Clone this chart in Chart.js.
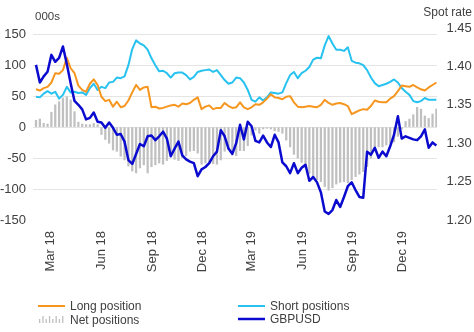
<!DOCTYPE html>
<html>
<head>
<meta charset="utf-8">
<script src="https://cdn.jsdelivr.net/npm/chart.js@4.4.1/dist/chart.umd.min.js"></script>
<style>
html, body { margin: 0; padding: 0; background: #ffffff; }
#wrap { width: 474px; height: 332px; }
</style>
</head>
<body>
<div id="wrap"><canvas id="c" width="474" height="332"></canvas></div>
<script>
// Weekly observations (Friday report dates)
const weekDates = [
  '2018-02-02','2018-02-09','2018-02-16','2018-02-23','2018-03-02','2018-03-09','2018-03-16','2018-03-23','2018-03-30',
  '2018-04-06','2018-04-13','2018-04-20','2018-04-27','2018-05-04','2018-05-11','2018-05-18','2018-05-25',
  '2018-06-01','2018-06-08','2018-06-15','2018-06-22','2018-06-29','2018-07-06','2018-07-13','2018-07-20','2018-07-27',
  '2018-08-03','2018-08-10','2018-08-17','2018-08-24','2018-08-31','2018-09-07','2018-09-14','2018-09-21','2018-09-28',
  '2018-10-05','2018-10-12','2018-10-19','2018-10-26','2018-11-02','2018-11-09','2018-11-16','2018-11-23','2018-11-30',
  '2018-12-07','2018-12-14','2018-12-21','2018-12-28','2019-01-04','2019-01-11','2019-01-18','2019-01-25',
  '2019-02-01','2019-02-08','2019-02-15','2019-02-22','2019-03-01','2019-03-08','2019-03-15','2019-03-22','2019-03-29',
  '2019-04-05','2019-04-12','2019-04-19','2019-04-26','2019-05-03','2019-05-10','2019-05-17','2019-05-24','2019-05-31',
  '2019-06-07','2019-06-14','2019-06-21','2019-06-28','2019-07-05','2019-07-12','2019-07-19','2019-07-26',
  '2019-08-02','2019-08-09','2019-08-16','2019-08-23','2019-08-30','2019-09-06','2019-09-13','2019-09-20','2019-09-27',
  '2019-10-04','2019-10-11','2019-10-18','2019-10-25','2019-11-01','2019-11-08','2019-11-15','2019-11-22','2019-11-29',
  '2019-12-06','2019-12-13','2019-12-20','2019-12-27','2020-01-03','2020-01-10','2020-01-17','2020-01-24','2020-01-31'
];

// Positions, thousands of contracts
const longPositions = [
  61, 59, 63, 65, 72, 87, 86, 92, 112, 95,
  87, 67, 60, 57, 70, 77, 68, 49, 42, 44,
  33, 41, 32, 34, 43, 56, 68, 60, 64, 65,
  32, 33, 30, 31, 33, 35, 36, 33, 38, 37,
  39, 44, 48, 29, 33, 35, 29, 31, 31, 39,
  34, 31, 32, 40, 32, 29, 32, 37, 36, 40,
  46, 53, 48, 47, 45, 49, 50, 40, 33, 32,
  33, 34, 33, 32, 36, 44, 39, 36, 38, 39,
  37, 34, 21, 24, 27, 29, 28, 34, 43, 41,
  40, 40, 46, 50, 58, 67, 66, 65, 68, 64,
  61, 59, 64, 68, 72
];
const shortPositions = [
  49, 48, 54, 58, 54, 57, 46, 52, 65, 56,
  57, 55, 56, 52, 63, 70, 60, 65, 63, 72,
  73, 80, 79, 82, 100, 126, 140, 135, 132, 125,
  111, 100, 90, 91, 87, 80, 87, 88, 88, 84,
  77, 81, 89, 91, 92, 93, 89, 92, 84, 76,
  70, 72, 80, 79, 72, 60, 44, 41, 48, 43,
  48, 56, 55, 54, 56, 71, 84, 89, 79, 87,
  91, 97, 109, 112, 111, 132, 147, 135, 125, 125,
  123, 129, 107, 104, 103, 100, 92, 80, 71, 66,
  68, 70, 73, 77, 72, 63, 57, 52, 42, 40,
  42, 47, 44, 44, 44
];
const netPositions = [
  11, 13, 6, 5, 24, 36, 41, 47, 49, 44,
  25, 8, 5, 4, 4, 6, 4, -12, -20, -26,
  -37, -39, -47, -53, -63, -71, -74, -66, -61, -74,
  -64, -61, -58, -60, -54, -45, -52, -54, -49, -46,
  -39, -38, -42, -60, -58, -56, -59, -60, -53, -39,
  -36, -40, -46, -38, -38, -30, -13, -5, -10, -3,
  -2, -3, -6, -7, -10, -21, -32, -44, -50, -57,
  -66, -75, -79, -85, -88, -96, -102, -98, -92, -89,
  -88, -90, -85, -80, -76, -72, -64, -50, -36, -32,
  -32, -29, -26, -24, -15, -3, 9, 13, 20, 32,
  29, 18, 14, 21, 29
];
// GBP/USD spot rate
const gbpusd = [
  1.402, 1.379, 1.387, 1.393, 1.415, 1.406, 1.411, 1.426, 1.403, 1.378,
  1.355, 1.350, 1.344, 1.331, 1.333, 1.340, 1.328, 1.327, 1.320, 1.327,
  1.320, 1.311, 1.312, 1.302, 1.278, 1.273, 1.286, 1.299, 1.296, 1.309,
  1.310, 1.304, 1.309, 1.315, 1.306, 1.283, 1.293, 1.302, 1.284, 1.279,
  1.276, 1.274, 1.257, 1.266, 1.269, 1.274, 1.283, 1.289, 1.317, 1.309,
  1.293, 1.286, 1.300, 1.324, 1.305, 1.328, 1.322, 1.303, 1.301, 1.310,
  1.301, 1.295, 1.311, 1.301, 1.275, 1.270, 1.261, 1.274, 1.261, 1.268,
  1.272, 1.251, 1.256, 1.249, 1.236, 1.211, 1.208, 1.213, 1.226, 1.217,
  1.230, 1.244, 1.249, 1.239, 1.230, 1.229, 1.289, 1.285, 1.294, 1.281,
  1.289, 1.283, 1.296, 1.311, 1.335, 1.306, 1.309, 1.307, 1.305, 1.304,
  1.309, 1.318, 1.294, 1.301, 1.297
];

// Quarterly date ticks on the time axis
const tickDates = ['2018-03-01','2018-06-01','2018-09-01','2018-12-01','2019-03-01','2019-06-01','2019-09-01','2019-12-01'];
const tickLabels = ['Mar 18','Jun 18','Sep 18','Dec 18','Mar 19','Jun 19','Sep 19','Dec 19'];

const seriesNames = ['Long position', 'Short positions', 'Net positions', 'GBPUSD'];
const leftUnit = '000s';
const rightUnit = 'Spot rate';

const FONT = "'Liberation Sans', Arial, Helvetica, sans-serif";
const TEXT = '#404040';
const GRID = '#e4e4e4';
const COLORS = { long: '#f7961f', short: '#28c2f0', net: '#c0c0c0', fx: '#0b0bcf' };

// x position of each week, in weeks since the first observation
const DAY = 86400000;
const t0 = Date.parse(weekDates[0]);
const weekIndex = d => (Date.parse(d) - t0) / (7 * DAY);
const tickValues = tickDates.map(weekIndex);
const pts = arr => arr.map((v, i) => ({ x: weekIndex(weekDates[i]), y: v }));

// Axis unit captions and the two-column legend underneath the plot
const extras = {
  id: 'extras',
  afterDraw(chart) {
    const ctx = chart.ctx;
    ctx.save();
    ctx.fillStyle = TEXT;
    ctx.textBaseline = 'alphabetic';
    ctx.font = '11.5px ' + FONT;
    ctx.textAlign = 'left';
    ctx.fillText(leftUnit, 35, 19.5);
    ctx.font = '12px ' + FONT;
    ctx.textAlign = 'right';
    ctx.fillText(rightUnit, 472, 16);

    const items = [
      { name: seriesNames[0], kind: 'line', color: COLORS.long, w: 2, x: 38, y: 306 },
      { name: seriesNames[1], kind: 'line', color: COLORS.short, w: 2, x: 238, y: 306 },
      { name: seriesNames[2], kind: 'bars', color: COLORS.net, x: 38, y: 320 },
      { name: seriesNames[3], kind: 'line', color: COLORS.fx, w: 2.5, x: 238, y: 319 }
    ];
    ctx.font = '12px ' + FONT;
    ctx.textAlign = 'left';
    ctx.textBaseline = 'middle';
    items.forEach(it => {
      if (it.kind === 'line') {
        ctx.strokeStyle = it.color;
        ctx.lineWidth = it.w;
        ctx.beginPath();
        ctx.moveTo(it.x, it.y);
        ctx.lineTo(it.x + 27, it.y);
        ctx.stroke();
      } else {
        ctx.fillStyle = it.color;
        for (let k = 0; k < 8; k++) {
          const h = k % 2 ? 7 : 4;
          ctx.fillRect(it.x + 1 + k * 3.3, it.y + 3 - h, 1.3, h);
        }
      }
      ctx.fillStyle = TEXT;
      ctx.fillText(it.name, it.x + 32, it.y + 0.5);
    });
    ctx.restore();
  }
};

new Chart(document.getElementById('c'), {
  type: 'bar',
  data: {
    datasets: [
      { type: 'line', label: seriesNames[3], data: pts(gbpusd), yAxisID: 'y2',
        borderColor: COLORS.fx, borderWidth: 2.5, pointRadius: 0, tension: 0,
        borderJoinStyle: 'round', order: 1 },
      { type: 'line', label: seriesNames[0], data: pts(longPositions), yAxisID: 'y',
        borderColor: COLORS.long, borderWidth: 2, pointRadius: 0, tension: 0,
        borderJoinStyle: 'round', order: 2 },
      { type: 'line', label: seriesNames[1], data: pts(shortPositions), yAxisID: 'y',
        borderColor: COLORS.short, borderWidth: 2, pointRadius: 0, tension: 0,
        borderJoinStyle: 'round', order: 3 },
      { type: 'bar', label: seriesNames[2], data: pts(netPositions), yAxisID: 'y',
        backgroundColor: COLORS.net, barThickness: 1.6, order: 4 }
    ]
  },
  options: {
    responsive: false,
    animation: false,
    devicePixelRatio: 1,
    layout: { padding: { top: 28, left: 0, right: 0, bottom: 0 } },
    plugins: { legend: { display: false }, tooltip: { enabled: false } },
    scales: {
      x: {
        type: 'linear', offset: false, min: -0.78, max: 104.16,
        grid: { display: false, drawTicks: false },
        border: { display: false },
        afterFit(s) { s.height = 112; },
        afterBuildTicks(s) { s.ticks = tickValues.map(v => ({ value: v })); },
        ticks: {
          autoSkip: false, maxRotation: 90, minRotation: 90, padding: 11,
          color: TEXT, font: { family: FONT, size: 13 },
          callback: (v, i) => tickLabels[i]
        }
      },
      y: {
        position: 'left', min: -150, max: 160,
        grid: {
          drawTicks: false,
          color: c => (c.tick && c.tick.value === -150) ? 'rgba(0,0,0,0)' : GRID
        },
        border: { display: false },
        afterFit(s) { s.width = 33; },
        ticks: { stepSize: 50, includeBounds: false, padding: 7, color: TEXT,
                 font: { family: FONT, size: 13 } }
      },
      y2: {
        position: 'right', min: 1.2, max: 1.45,
        grid: { display: false, drawTicks: false },
        border: { display: false },
        afterFit(s) { s.width = 37; },
        ticks: { stepSize: 0.05, includeBounds: false, padding: 9.5, color: TEXT,
                 font: { family: FONT, size: 13 },
                 callback: v => v.toFixed(2) }
      }
    }
  },
  plugins: [extras]
});
</script>
</body>
</html>
